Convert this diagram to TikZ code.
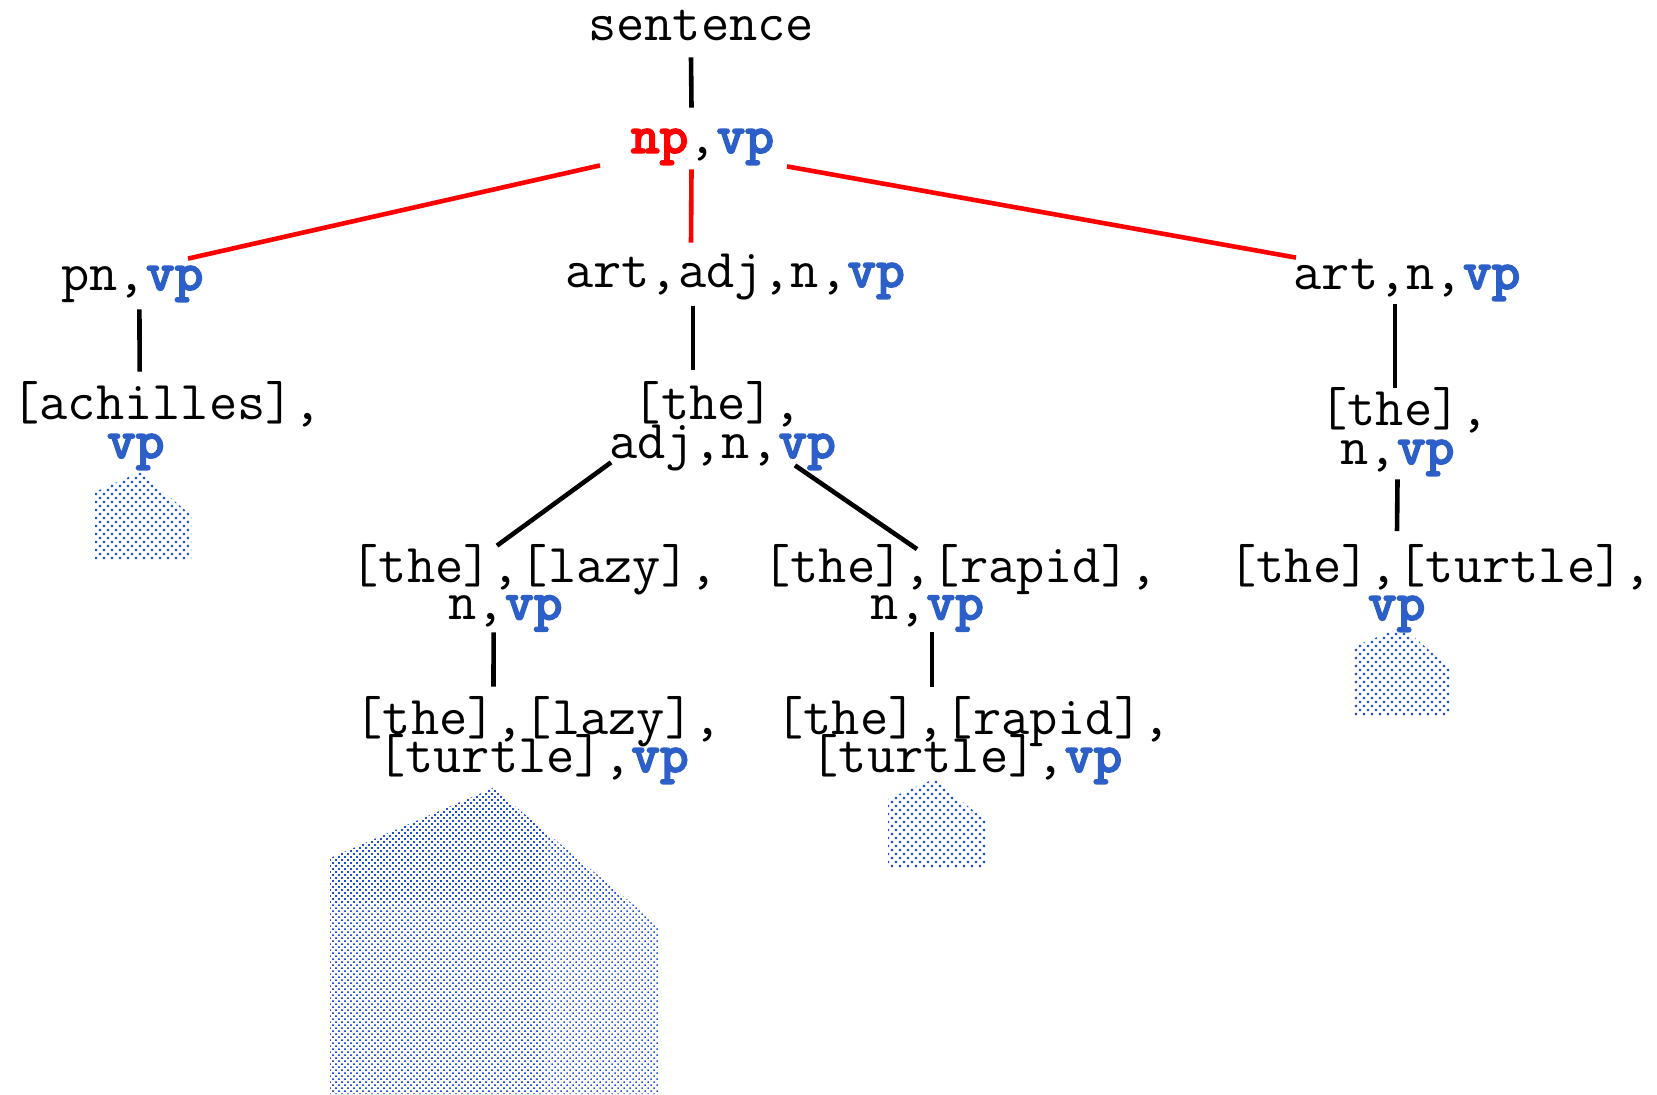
\documentclass[tikz,border=0pt]{standalone}
\usepackage{fontspec}
\newfontfamily\boldmono{lmmonolt10-bold.otf}[FakeBold=2.5]
\usetikzlibrary{calc,patterns.meta}
\definecolor{vpblue}{RGB}{45,95,200}
\definecolor{dotblue}{RGB}{30,80,220}
\newcommand{\vpword}{\textcolor{vpblue}{\boldmono vp}}
\newcommand{\npword}{\textcolor{red}{\boldmono np}}
\tikzdeclarepattern{
  name=vpdots, type=uncolored,
  bounding box={(-.6pt,-.6pt) and (2.6pt,2.6pt)},
  tile size={(4pt,4pt)},
  code={
    \pgfpathrectangle{\pgfpoint{-.55pt}{-.55pt}}{\pgfpoint{1.1pt}{1.1pt}}
    \pgfpathrectangle{\pgfpoint{1.45pt}{1.45pt}}{\pgfpoint{1.1pt}{1.1pt}}
    \pgfusepath{fill}
  }
}
\tikzdeclarepattern{
  name=vpdotsfine, type=uncolored,
  bounding box={(-.6pt,-.6pt) and (2.1pt,2.1pt)},
  tile size={(3pt,3pt)},
  code={
    \pgfpathrectangle{\pgfpoint{-.38pt}{-.38pt}}{\pgfpoint{.76pt}{.76pt}}
    \pgfpathrectangle{\pgfpoint{1.12pt}{1.12pt}}{\pgfpoint{.76pt}{.76pt}}
    \pgfusepath{fill}
  }
}
\begin{document}
\begin{tikzpicture}[x=0.5pt, y=-0.5pt,
    lbl/.style={anchor=base, inner sep=0pt, text height=22.5pt, text depth=8.5pt,
                font=\ttfamily\fontsize{27.4}{20}\selectfont},
    edge/.style={line width=2.3pt},
    redge/.style={edge, red},
    subtree/.style={pattern=vpdots, pattern color=dotblue},
    bigsubtree/.style={pattern=vpdotsfine, pattern color=dotblue}]
  \useasboundingbox (0,0) rectangle (1657,1094);
  % Goal and first clause
  \node[lbl] (sentence) at (701,40)    {sentence};
  \node[lbl] (np)       at (702.5,153) {\npword,\vpword};
  % Expansions of np
  \node[lbl] (pn)     at (132.4,290) {pn,\vpword};
  \node[lbl] (artadj) at (735,287)   {art,adj,n,\vpword};
  \node[lbl] (artn)   at (1407,289)  {art,n,\vpword};
  % Left branch
  \node[lbl] (ach1) at (166.7,419) {[achilles],};
  \node[lbl] (ach2) at (135.8,458) {\vpword};
  % Middle branch
  \node[lbl] (the1)    at (717.5,419) {[the],};
  \node[lbl] (adjn)    at (722.5,458) {adj,n,\vpword};
  \node[lbl] (lazy1)   at (534,582)   {[the],[lazy],};
  \node[lbl] (lazy2)   at (505.6,619.5) {n,\vpword};
  \node[lbl] (rapid1)  at (960,582)   {[the],[rapid],};
  \node[lbl] (rapid2)  at (927,619.5) {n,\vpword};
  \node[lbl] (lazyB1)  at (538,734)   {[the],[lazy],};
  \node[lbl] (lazyB2)  at (533,772)   {[turtle],\vpword};
  \node[lbl] (rapidB1) at (973,734)   {[the],[rapid],};
  \node[lbl] (rapidB2) at (966.5,772) {[turtle],\vpword};
  % Right branch
  \node[lbl] (theR)  at (1404,425)   {[the],};
  \node[lbl] (nvpR)  at (1397.5,464) {n,\vpword};
  \node[lbl] (turt1) at (1440,582)   {[the],[turtle],};
  \node[lbl] (turt2) at (1396.7,620) {\vpword};
  % Connectors
  \draw[edge]  ($(sentence.south)+(-10,0)$) -- ($(np.north)+(-11,0)$);
  \draw[redge] ($(np.south)+(-102.5,-5)$) -- ($(pn.north)+(55.6,14)$);
  \draw[redge] ($(np.south)+(-11,-1)$)    -- ($(artadj.north)+(-44,1)$);
  \draw[redge] ($(np.south)+(84.5,-4)$)   -- ($(artn.north)+(-111,14)$);
  \draw[edge]  ($(pn.south)+(7,2)$)       -- ($(ach1.north)+(-27,-2)$);
  \draw[edge]  ($(artadj.south)+(-42,2)$) -- ($(the1.north)+(-24.5,-4)$);
  \draw[edge]  ($(artn.south)+(-12,-2)$)  -- ($(theR.north)+(-9,8)$);
  \draw[edge]  ($(adjn.south)+(-111.5,-13)$) -- ($(lazy1.north)+(-37,9)$);
  \draw[edge]  ($(adjn.south)+(72.5,-10)$)   -- ($(rapid1.north)+(-43,12.5)$);
  \draw[edge]  ($(nvpR.south)+(0,-2)$)    -- ($(turt1.north)+(-43,-5.5)$);
  \draw[edge]  ($(lazy2.south)+(-12,-4.5)$) -- ($(lazyB1.north)+(-44.5,-2)$);
  \draw[edge]  ($(rapid2.south)+(5,-4.5)$)  -- ($(rapidB1.north)+(-41,-2)$);
  % Unexpanded vp subtrees
  \fill[subtree] (140,472) -- (95,492) -- (95,560) -- (191,560) -- (191,515) -- cycle;
  \fill[subtree] (934,779) -- (888,799) -- (888,867) -- (985,867) -- (985,820) -- cycle;
  \fill[subtree] (1402,627) -- (1353,647) -- (1353,715) -- (1450,715) -- (1450,668) -- cycle;
  \fill[bigsubtree] (493,788) -- (330,858) -- (330,1094) -- (658,1094) -- (658,925) -- cycle;
\end{tikzpicture}
\end{document}
